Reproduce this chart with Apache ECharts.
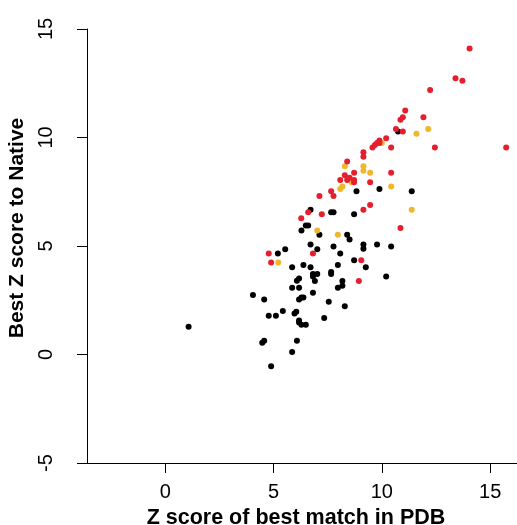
<!DOCTYPE html>
<html>
<head>
<meta charset="utf-8">
<script src="https://cdn.jsdelivr.net/npm/echarts@6/dist/echarts.min.js"></script>
<style>
html, body { margin: 0; padding: 0; background: #fff; }
#chart { width: 517px; height: 525px; }
</style>
</head>
<body>
<div id="chart"></div>
<script>
// points: [Z of best PDB match, best Z to native]
var blackPts = [
  [1.08, 1.28], [4.05, 2.74], [4.57, 2.54], [4.78, 1.79], [5.11, 1.79], [4.48, 0.54],
  [4.57, 0.63], [4.89, -0.54], [5.43, 2.0], [5.2, 4.65], [5.54, 4.85], [5.86, 4.02],
  [5.86, 3.08], [5.86, 0.11], [6.08, 0.63], [5.97, 1.89], [6.05, 1.97], [6.18, 1.57],
  [6.18, 1.48], [6.29, 1.37], [6.49, 1.37], [6.18, 2.54], [6.29, 2.63], [6.38, 2.63],
  [6.18, 3.08], [6.08, 3.4], [6.18, 3.5], [6.38, 4.13], [6.71, 4.02], [6.82, 3.71],
  [6.82, 3.6], [6.91, 3.39], [7.02, 3.71], [6.82, 2.85], [6.71, 5.07], [7.02, 4.85],
  [7.12, 5.52], [6.29, 5.72], [6.49, 5.95], [6.6, 5.95], [6.71, 6.67], [7.34, 1.68],
  [7.55, 2.43], [7.66, 3.8], [7.66, 3.71], [7.77, 4.98], [7.66, 6.56], [7.77, 6.56],
  [7.97, 3.08], [7.97, 4.13], [8.08, 4.65], [8.18, 3.39], [8.18, 3.17], [8.29, 2.22],
  [8.4, 5.52], [8.51, 5.3], [8.72, 4.34], [8.72, 6.46], [8.83, 7.52], [9.15, 5.07],
  [9.15, 4.87], [9.26, 4.02], [9.78, 5.07], [9.89, 7.63], [10.2, 3.6], [10.43, 4.98],
  [10.75, 10.28], [11.38, 7.52]
];
var yellowPts = [
  [5.22, 4.24], [7.02, 5.72], [7.97, 5.52], [8.08, 7.63], [8.18, 7.74], [8.29, 8.68],
  [8.61, 7.94], [9.15, 8.68], [9.15, 8.47], [9.46, 8.37], [10.0, 9.75], [10.43, 7.74],
  [11.38, 6.67], [11.6, 10.17], [12.14, 10.39]
];
var redPts = [
  [4.78, 4.65], [4.89, 4.24], [6.28, 6.28], [6.6, 6.56], [6.82, 4.65], [7.12, 7.3],
  [7.23, 6.46], [7.66, 7.52], [7.77, 7.3], [8.08, 8.04], [8.29, 8.26], [8.4, 8.89],
  [8.4, 8.04], [8.51, 8.15], [8.72, 8.37], [8.72, 8.04], [8.72, 7.94], [8.94, 3.39],
  [9.05, 4.34], [9.15, 6.67], [9.15, 9.32], [9.15, 9.11], [9.46, 7.94], [9.46, 6.89],
  [9.57, 9.54], [9.68, 9.65], [9.78, 9.75], [9.89, 9.86], [9.89, 9.75], [10.2, 9.97],
  [10.43, 9.54], [10.43, 8.37], [10.65, 10.39], [10.86, 5.83], [10.86, 10.82], [10.97, 10.93],
  [10.97, 10.28], [11.08, 11.24], [11.92, 10.93], [12.23, 12.19], [12.45, 9.54], [13.4, 12.73],
  [13.72, 12.62], [14.05, 14.1], [15.74, 9.54]
];
var xTicks = [0, 5, 10, 15];
var xTitle = 'Z score of best match in PDB';
var yTitle = 'Best Z score to Native';

var chart = echarts.init(document.getElementById('chart'));
var font = 'Liberation Sans, Arial, Helvetica, sans-serif';

var option = {
  animation: false,
  grid: { left: 87, right: 0, top: 29, bottom: 62, outerBoundsMode: 'none' },
  xAxis: {
    type: 'value',
    min: -3.61,
    max: 16.24,
    name: xTitle,
    nameLocation: 'middle',
    nameGap: 36,
    nameTextStyle: { fontFamily: font, fontWeight: 'bold', fontSize: 21.5, color: '#000', padding: [0, 12, 0, 0] },
    axisLine: { show: true, onZero: false, lineStyle: { color: '#000', width: 1 } },
    axisTick: { show: true, length: 10, customValues: xTicks, lineStyle: { color: '#000' } },
    axisLabel: { customValues: xTicks, fontFamily: font, fontSize: 20, color: '#000', margin: 19 },
    splitLine: { show: false }
  },
  yAxis: {
    type: 'value',
    min: -5,
    max: 15,
    interval: 5,
    name: yTitle,
    nameLocation: 'middle',
    nameGap: 53,
    nameTextStyle: { fontFamily: font, fontWeight: 'bold', fontSize: 21, color: '#000', padding: [0, 0, 0, 36] },
    axisLine: { show: true, onZero: false, lineStyle: { color: '#000', width: 1 } },
    axisTick: { show: true, length: 10, lineStyle: { color: '#000' } },
    axisLabel: { rotate: 90, fontFamily: font, fontSize: 20, color: '#000', margin: 31 },
    splitLine: { show: false }
  },
  series: [
    { type: 'scatter', data: blackPts, symbolSize: 6, itemStyle: { color: '#000000', opacity: 1 } },
    { type: 'scatter', data: yellowPts, symbolSize: 6, itemStyle: { color: '#f0b72b', opacity: 1 } },
    { type: 'scatter', data: redPts, symbolSize: 6, itemStyle: { color: '#e4202e', opacity: 1 } }
  ]
};
chart.setOption(option);
</script>
</body>
</html>
